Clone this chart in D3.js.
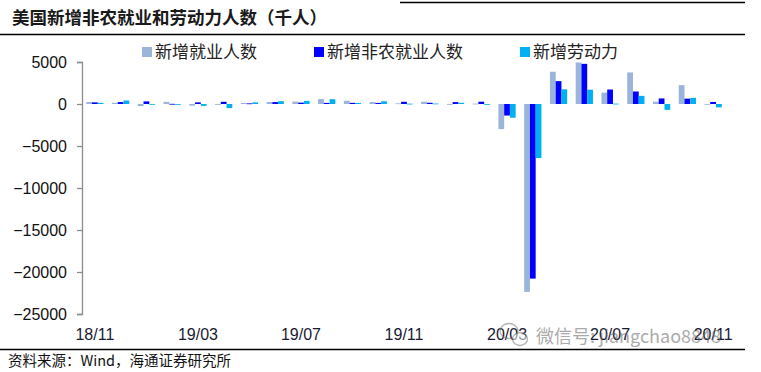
<!DOCTYPE html>
<html>
<head>
<meta charset="utf-8">
<script src="https://cdn.jsdelivr.net/npm/d3@7"></script>
<style>
  body { margin: 0; background: #fff; }
  svg { display: block; }
</style>
</head>
<body>
<div id="chart"></div>
<script>
// monthly change, thousands
var months = ["18/11", "18/12", "19/01", "19/02", "19/03", "19/04", "19/05", "19/06", "19/07",
  "19/08", "19/09", "19/10", "19/11", "19/12", "20/01", "20/02", "20/03", "20/04", "20/05",
  "20/06", "20/07", "20/08", "20/09", "20/10", "20/11"];

var household = [233, 142, -251, 255, -201, -103, 113, 247, 283, 590, 391, 241, 83, 267,
  -89, 45, -2987, -22369, 3839, 4940, 1350, 3756, 275, 2243, -74];
var nonfarm = [196, 227, 312, 20, 196, 263, 75, 224, 164, 130, 136, 128, 266, 145,
  225, 273, -1373, -20787, 2725, 4781, 1726, 1489, 661, 638, 245];
var laborForce = [133, 419, 1, -45, -224, -490, 190, 335, 370, 571, 117, 325, 40, 58,
  139, -60, -1632, -6433, 1748, 1705, 44, 968, -695, 724, -400];

var seriesNames = ["新增就业人数", "新增非农就业人数", "新增劳动力"];
var seriesColors = ["#9bb4d9", "#0000ff", "#00b0f0"];
var yTicks = [5000, 0, -5000, -10000, -15000, -20000, -25000];
var xTicks = ["18/11", "19/03", "19/07", "19/11", "20/03", "20/07", "20/11"];

var svgWidth = 761;
var svgHeight = 372;

var svg = d3.select("#chart")
  .append("svg")
  .attr("width", svgWidth)
  .attr("height", svgHeight);

var cjk = "'Noto Sans CJK SC', sans-serif";
var latin = "'Liberation Sans', Arial, sans-serif";

// frame lines
svg.append("line").attr("x1", 400).attr("x2", 745).attr("y1", 2.5).attr("y2", 2.5)
  .attr("stroke", "#000").attr("stroke-width", 1.5);
svg.append("line").attr("x1", 0).attr("x2", 745).attr("y1", 34.5).attr("y2", 34.5)
  .attr("stroke", "#000").attr("stroke-width", 1.5);
svg.append("line").attr("x1", 0).attr("x2", 745).attr("y1", 349.5).attr("y2", 349.5)
  .attr("stroke", "#000").attr("stroke-width", 1.5);

svg.append("text")
  .attr("x", 12).attr("y", 24)
  .style("font-family", cjk).style("font-size", "17.5px").style("font-weight", "bold")
  .attr("fill", "#1a1a1a")
  .text("美国新增非农就业和劳动力人数（千人）");

svg.append("text")
  .attr("x", 8).attr("y", 366)
  .style("font-family", cjk).style("font-size", "14.5px")
  .attr("fill", "#111")
  .text("资料来源：Wind，海通证券研究所");

// scales
var x0 = d3.scaleBand()
  .domain(months)
  .range([82, 726])
  .paddingInner(0.33)
  .paddingOuter(0.165);

var x1 = d3.scaleBand()
  .domain([0, 1, 2])
  .range([0, x0.bandwidth()]);

var y = d3.scaleLinear()
  .domain([-25000, 5000])
  .range([314, 62]);

// y axis
var yAxis = svg.append("g")
  .attr("transform", "translate(82,0)")
  .call(d3.axisLeft(y).tickValues(yTicks).tickFormat(d3.format("d")).tickSize(5).tickPadding(10));
yAxis.select(".domain").attr("stroke", "#8c8c8c").attr("stroke-width", 1.3);
yAxis.selectAll(".tick line").attr("stroke", "#8c8c8c").attr("stroke-width", 1.3);
yAxis.selectAll("text")
  .style("font-family", latin).style("font-size", "16px").attr("fill", "#111");

// x axis labels
var xAxis = svg.append("g")
  .attr("transform", "translate(0,322)")
  .call(d3.axisBottom(x0).tickValues(xTicks).tickSize(0).tickPadding(0));
xAxis.select(".domain").remove();
xAxis.selectAll("text")
  .attr("dy", "1.1em")
  .style("font-family", latin).style("font-size", "16px").attr("fill", "#1a1a33");

// bars
var table = months.map(function(m, i) {
  return { month: m, values: [household[i], nonfarm[i], laborForce[i]] };
});

var groups = svg.selectAll(".grp")
  .data(table)
  .enter()
  .append("g")
  .attr("class", "grp")
  .attr("transform", d => `translate(${x0(d.month)},0)`);

groups.selectAll("rect")
  .data(d => d.values.map((v, k) => ({ k: k, v: v })))
  .enter()
  .append("rect")
  .attr("x", d => x1(d.k))
  .attr("width", x1.bandwidth())
  .attr("y", d => y(Math.max(0, d.v)))
  .attr("height", d => Math.max(0.8, Math.abs(y(d.v) - y(0))))
  .attr("fill", d => seriesColors[d.k]);

// legend
var legendX = [142, 314, 520];
var legend = svg.selectAll(".leg")
  .data(seriesNames)
  .enter()
  .append("g")
  .attr("class", "leg")
  .attr("transform", (d, i) => `translate(${legendX[i]},47)`);

legend.append("rect")
  .attr("width", 10).attr("height", 10)
  .attr("fill", (d, i) => seriesColors[i]);

legend.append("text")
  .attr("x", 13).attr("y", 11)
  .style("font-family", cjk).style("font-size", "17px")
  .attr("fill", "#222")
  .text(d => d);

// watermark
var wm = svg.append("g").attr("opacity", 0.55);
wm.append("ellipse").attr("cx", 509).attr("cy", 331).attr("rx", 9).attr("ry", 7.5)
  .attr("fill", "none").attr("stroke", "#777").attr("stroke-width", 1.3);
wm.append("ellipse").attr("cx", 520).attr("cy", 339).attr("rx", 7.5).attr("ry", 6.5)
  .attr("fill", "#fff").attr("stroke", "#777").attr("stroke-width", 1.3);
wm.append("text")
  .attr("x", 536).attr("y", 343)
  .style("font-family", cjk).style("font-size", "18px")
  .attr("fill", "#666")
  .text("微信号: jiangchao8848");
</script>
</body>
</html>
